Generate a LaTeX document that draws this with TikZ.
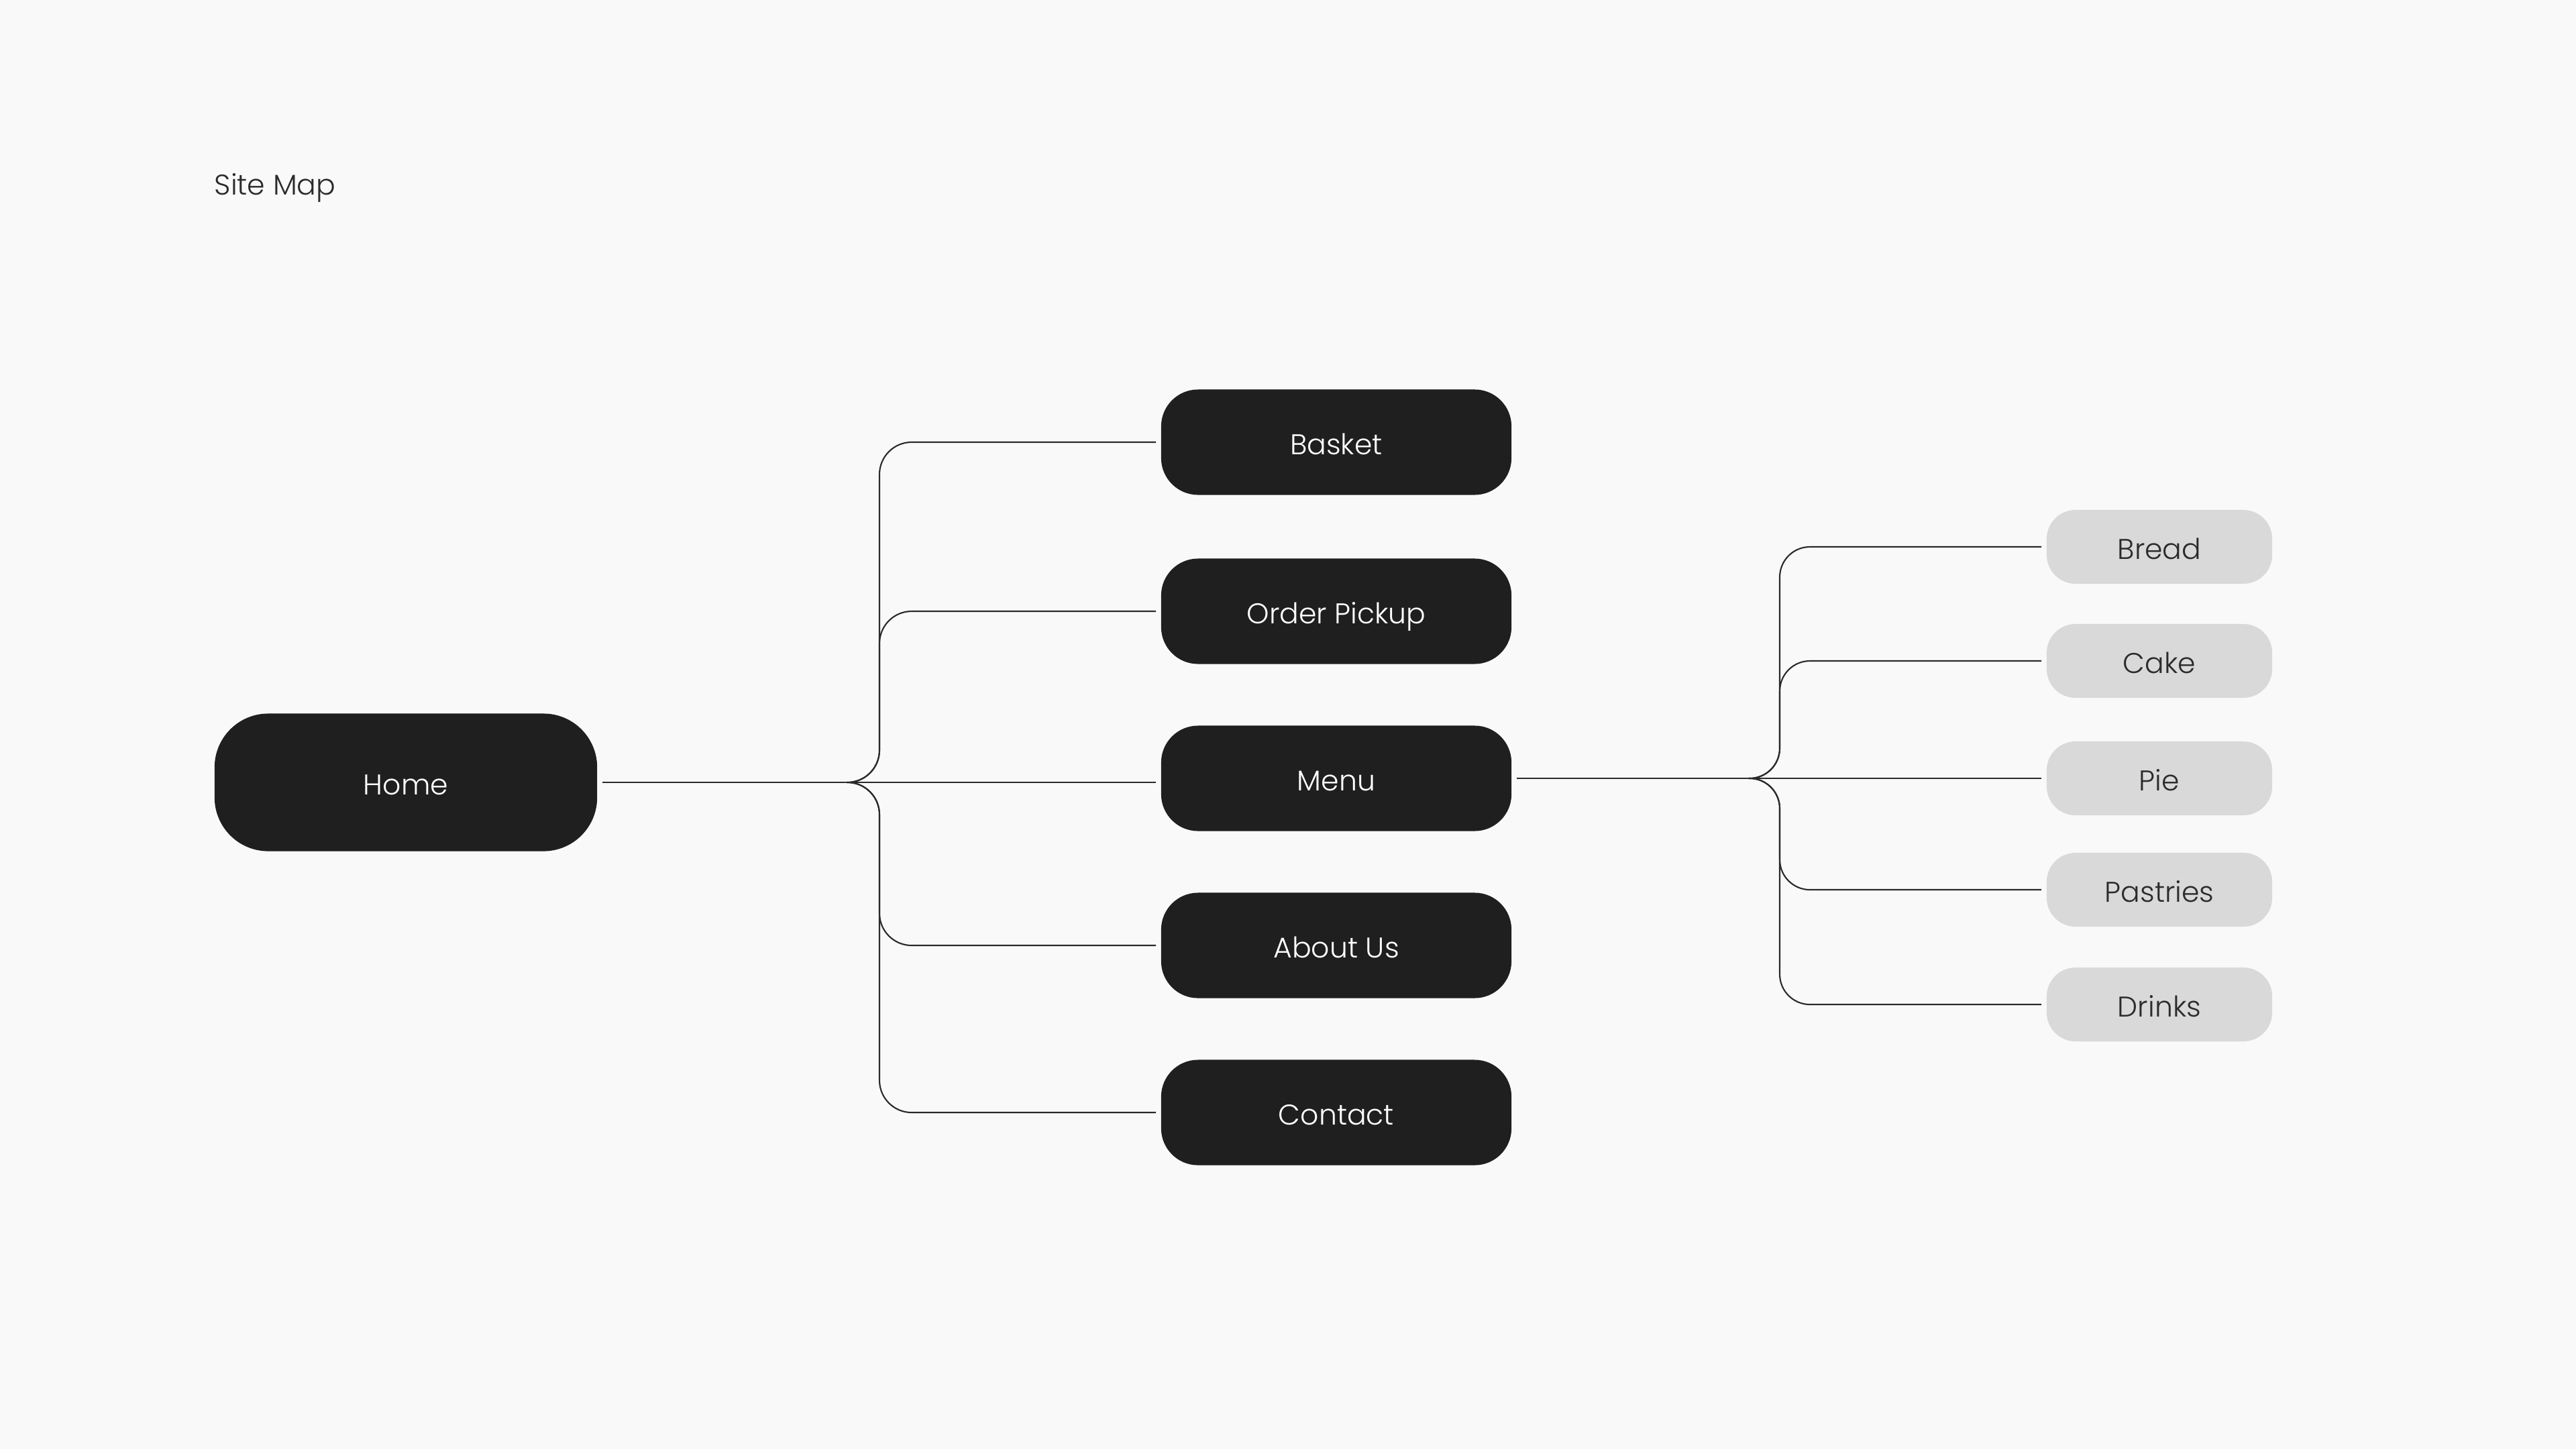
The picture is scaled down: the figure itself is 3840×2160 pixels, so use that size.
\documentclass[tikz,border=0pt]{standalone}
\usepackage{fontspec}
\setmainfont{Poppins Light}
\usetikzlibrary{calc}
\definecolor{bgc}{HTML}{F9F9F9}
\definecolor{darkc}{HTML}{1F1F1F}
\definecolor{lightc}{HTML}{D9D9D9}
\definecolor{linec}{HTML}{2A2A2A}
\definecolor{txtc}{HTML}{2B2B2B}
\tikzset{
  lbl/.style={font=\fontsize{12.1}{14}\selectfont, text height=1.03em, text depth=0pt},
  darknode/.style={lbl, fill=darkc, text=white, rounded corners=0.55cm, minimum width=5.22cm, minimum height=1.57cm, inner sep=0pt},
  homenode/.style={darknode, rounded corners=0.8cm, minimum width=5.7cm, minimum height=2.05cm},
  lightnode/.style={lbl, fill=lightc, text=txtc, rounded corners=0.43cm, minimum width=3.36cm, minimum height=1.10cm, inner sep=0pt},
  conn/.style={draw=linec, line width=0.6pt},
  connL/.style={conn, rounded corners=0.48cm},
  connR/.style={conn, rounded corners=0.45cm},
}
\begin{document}
\begin{tikzpicture}[x=0.01cm, y=-0.01cm]
\fill[bgc] (0,0) rectangle (3840,2160);
\useasboundingbox (0,0) rectangle (3840,2160);
\node[anchor=base west, text=txtc, font=\fontsize{12.1}{14}\selectfont, inner sep=0pt] (title) at (319,290) {Site Map};
\node[homenode] (home) at (605,1166) {Home};
\node[darknode] (basket) at (1992,659) {Basket};
\node[darknode] (pickup) at (1992,911) {Order Pickup};
\node[darknode] (menu) at (1992,1160) {Menu};
\node[darknode] (about) at (1992,1409) {About Us};
\node[darknode] (contact) at (1992,1658) {Contact};
\node[lightnode] (bread) at (3219,815) {Bread};
\node[lightnode] (cake) at (3219,985) {Cake};
\node[lightnode] (pie) at (3219,1160) {Pie};
\node[lightnode] (pastries) at (3219,1326) {Pastries};
\node[lightnode] (drinks) at (3219,1497) {Drinks};
\coordinate (jL) at (1263,1166);
\coordinate (tL) at (1311,1166);
\coordinate (jR) at (2607,1160);
\coordinate (tR) at (2653,1160);
% left tree
\draw[conn] ([xshift=0.07cm]home.east) -- ([xshift=-0.07cm]menu.west |- home.east);
\foreach \n in {basket,pickup,about,contact}
  \draw[connL] (jL) -| (\n.west -| tL) -- ([xshift=-0.07cm]\n.west);
% right tree
\draw[conn] ([xshift=0.07cm]menu.east) -- ([xshift=-0.07cm]pie.west);
\foreach \n in {bread,cake,pastries,drinks}
  \draw[connR] (jR) -| (\n.west -| tR) -- ([xshift=-0.07cm]\n.west);
\end{tikzpicture}
\end{document}
